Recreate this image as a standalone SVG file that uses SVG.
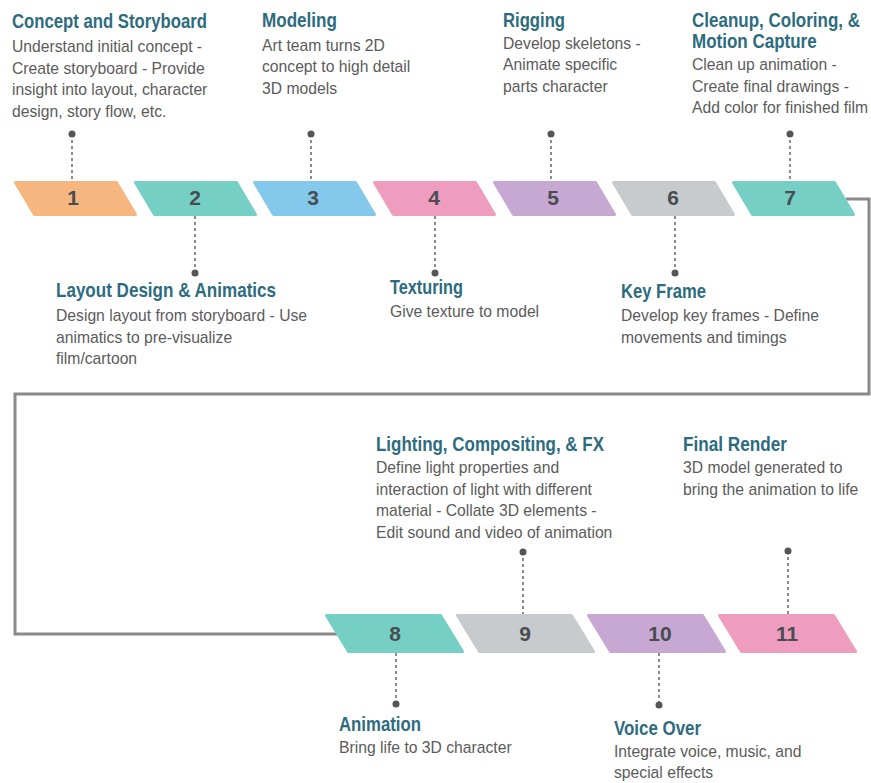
<svg xmlns="http://www.w3.org/2000/svg" width="871" height="783" viewBox="0 0 871 783">
<style>
.title{font-family:"Liberation Sans Narrow","Liberation Sans",Arial,sans-serif;font-weight:bold;font-size:21px;fill:#2d6c7e}
.body{font-family:"Liberation Sans",Arial,sans-serif;font-size:15.7px;fill:#5b5b5b}
.num{font-family:"Liberation Sans Narrow","Liberation Sans",Arial,sans-serif;font-weight:bold;font-size:21px;fill:#484d52;text-anchor:middle}
.shape{stroke-width:3;stroke-linejoin:round}
.dash{stroke:#6f6f6f;stroke-width:1.6;stroke-dasharray:3 3;fill:none}
.dot{fill:#555}
.conn{stroke:#8a8a8a;stroke-width:3;fill:none}
.c-orange{fill:#f5b680;stroke:#f5b680}
.c-teal{fill:#76cfc4;stroke:#76cfc4}
.c-blue{fill:#84c9ec;stroke:#84c9ec}
.c-pink{fill:#ee9dbe;stroke:#ee9dbe}
.c-purple{fill:#c6a8d3;stroke:#c6a8d3}
.c-gray{fill:#c8cbcd;stroke:#c8cbcd}
</style>
<rect width="871" height="783" fill="#ffffff"/>
<g id="connectors">
<path class="conn" d="M846 199 H869 V394 H15 V634 H337"/>
</g>
<g id="step1">
<polygon class="shape c-orange" points="15.5,182.5 116.5,182.5 135.5,214.5 34.5,214.5"/>
<text class="num" x="73" y="205">1</text>
<line class="dash" x1="72" y1="134" x2="72" y2="181"/>
<circle class="dot" cx="72" cy="134" r="3.5"/>
<text class="title" x="12" y="28" textLength="195" lengthAdjust="spacingAndGlyphs">Concept and Storyboard</text>
<text class="body" x="12" y="52">Understand initial concept -</text>
<text class="body" x="12" y="73.5">Create storyboard - Provide</text>
<text class="body" x="12" y="95">insight into layout, character</text>
<text class="body" x="12" y="116.5">design, story flow, etc.</text>
</g>
<g id="step2">
<polygon class="shape c-teal" points="135.5,182.5 236.5,182.5 255.5,214.5 154.5,214.5"/>
<text class="num" x="195" y="205">2</text>
<line class="dash" x1="195" y1="216" x2="195" y2="273"/>
<circle class="dot" cx="195" cy="273" r="3.5"/>
<text class="title" x="56" y="297" textLength="220" lengthAdjust="spacingAndGlyphs">Layout Design &amp; Animatics</text>
<text class="body" x="56" y="321">Design layout from storyboard - Use</text>
<text class="body" x="56" y="342.5">animatics to pre-visualize</text>
<text class="body" x="56" y="364">film/cartoon</text>
</g>
<g id="step3">
<polygon class="shape c-blue" points="254.5,182.5 355.5,182.5 374.5,214.5 273.5,214.5"/>
<text class="num" x="313" y="205">3</text>
<line class="dash" x1="311" y1="134" x2="311" y2="181"/>
<circle class="dot" cx="311" cy="134" r="3.5"/>
<text class="title" x="262" y="27" textLength="75" lengthAdjust="spacingAndGlyphs">Modeling</text>
<text class="body" x="262" y="50.5">Art team turns 2D</text>
<text class="body" x="262" y="72">concept to high detail</text>
<text class="body" x="262" y="93.5">3D models</text>
</g>
<g id="step4">
<polygon class="shape c-pink" points="374.5,182.5 475.5,182.5 494.5,214.5 393.5,214.5"/>
<text class="num" x="434" y="205">4</text>
<line class="dash" x1="435" y1="216" x2="435" y2="273"/>
<circle class="dot" cx="435" cy="273" r="3.5"/>
<text class="title" x="390" y="294" textLength="73" lengthAdjust="spacingAndGlyphs">Texturing</text>
<text class="body" x="390" y="317">Give texture to model</text>
</g>
<g id="step5">
<polygon class="shape c-purple" points="494.5,182.5 595.5,182.5 614.5,214.5 513.5,214.5"/>
<text class="num" x="553" y="205">5</text>
<line class="dash" x1="551" y1="134" x2="551" y2="181"/>
<circle class="dot" cx="551" cy="134" r="3.5"/>
<text class="title" x="503" y="27" textLength="62" lengthAdjust="spacingAndGlyphs">Rigging</text>
<text class="body" x="503" y="48.5">Develop skeletons -</text>
<text class="body" x="503" y="70">Animate specific</text>
<text class="body" x="503" y="91.5">parts character</text>
</g>
<g id="step6">
<polygon class="shape c-gray" points="613.5,182.5 714.5,182.5 733.5,214.5 632.5,214.5"/>
<text class="num" x="673" y="205">6</text>
<line class="dash" x1="675" y1="216" x2="675" y2="273"/>
<circle class="dot" cx="675" cy="273" r="3.5"/>
<text class="title" x="621" y="298" textLength="85" lengthAdjust="spacingAndGlyphs">Key Frame</text>
<text class="body" x="621" y="321">Develop key frames - Define</text>
<text class="body" x="621" y="343">movements and timings</text>
</g>
<g id="step7">
<polygon class="shape c-teal" points="733.5,182.5 834.5,182.5 853.5,214.5 752.5,214.5"/>
<text class="num" x="790" y="205">7</text>
<line class="dash" x1="790" y1="134" x2="790" y2="181"/>
<circle class="dot" cx="790" cy="134" r="3.5"/>
<text class="title" transform="translate(692 0) scale(0.81 1)"><tspan x="0" y="27">Cleanup, Coloring, &amp;</tspan><tspan x="0" y="48">Motion Capture</tspan></text>
<text class="body" x="692" y="70">Clean up animation -</text>
<text class="body" x="692" y="91.5">Create final drawings -</text>
<text class="body" x="692" y="113">Add color for finished film</text>
</g>
<g id="step8">
<polygon class="shape c-teal" points="326.5,615.5 440.5,615.5 462.5,651.5 348.5,651.5"/>
<text class="num" x="395" y="641">8</text>
<line class="dash" x1="396" y1="653" x2="396" y2="704"/>
<circle class="dot" cx="396" cy="704" r="3.5"/>
<text class="title" x="339" y="731" textLength="82" lengthAdjust="spacingAndGlyphs">Animation</text>
<text class="body" x="339" y="753">Bring life to 3D character</text>
</g>
<g id="step9">
<polygon class="shape c-gray" points="457.5,615.5 571.5,615.5 593.5,651.5 479.5,651.5"/>
<text class="num" x="525" y="641">9</text>
<line class="dash" x1="523" y1="552" x2="523" y2="614"/>
<circle class="dot" cx="523" cy="552" r="3.5"/>
<text class="title" x="376" y="451" textLength="228" lengthAdjust="spacingAndGlyphs">Lighting, Compositing, &amp; FX</text>
<text class="body" x="376" y="473">Define light properties and</text>
<text class="body" x="376" y="494.5">interaction of light with different</text>
<text class="body" x="376" y="516">material - Collate 3D elements -</text>
<text class="body" x="376" y="537.5">Edit sound and video of animation</text>
</g>
<g id="step10">
<polygon class="shape c-purple" points="588.5,615.5 702.5,615.5 724.5,651.5 610.5,651.5"/>
<text class="num" x="660" y="641">10</text>
<line class="dash" x1="659" y1="653" x2="659" y2="705"/>
<circle class="dot" cx="659" cy="705" r="3.5"/>
<text class="title" x="614" y="735" textLength="87" lengthAdjust="spacingAndGlyphs">Voice Over</text>
<text class="body" x="614" y="757">Integrate voice, music, and</text>
<text class="body" x="614" y="778">special effects</text>
</g>
<g id="step11">
<polygon class="shape c-pink" points="719.5,615.5 833.5,615.5 855.5,651.5 741.5,651.5"/>
<text class="num" x="787" y="641">11</text>
<line class="dash" x1="788" y1="551" x2="788" y2="614"/>
<circle class="dot" cx="788" cy="551" r="3.5"/>
<text class="title" x="683" y="451" textLength="104" lengthAdjust="spacingAndGlyphs">Final Render</text>
<text class="body" x="683" y="473">3D model generated to</text>
<text class="body" x="683" y="494.5">bring the animation to life</text>
</g>
</svg>
